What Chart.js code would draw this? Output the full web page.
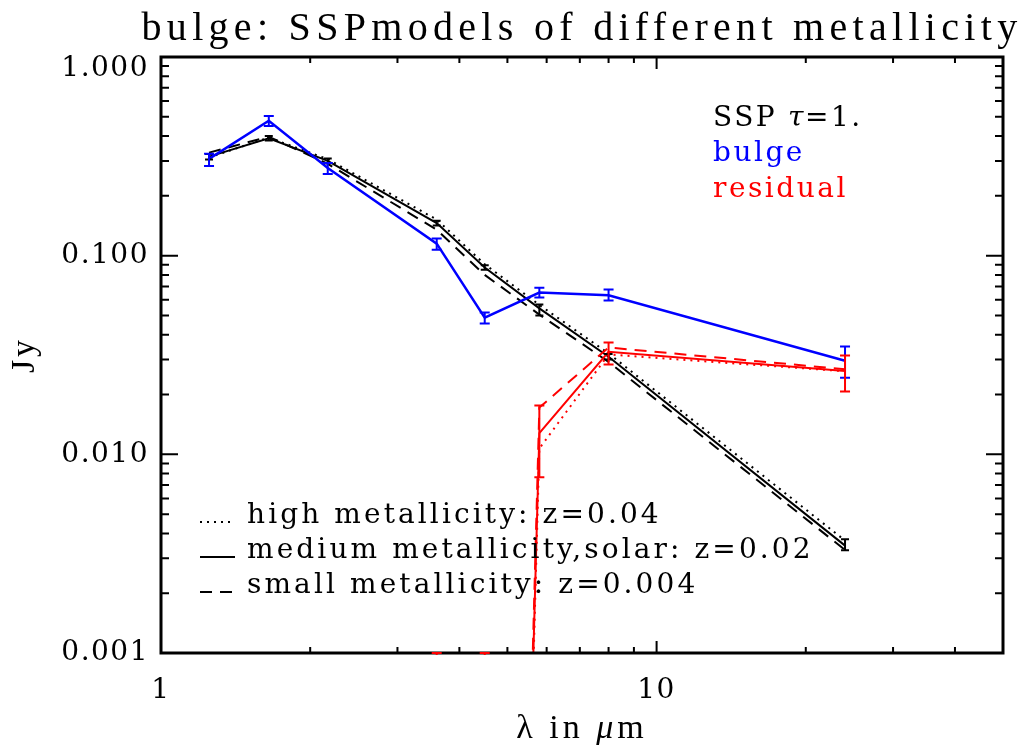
<!DOCTYPE html>
<html>
<head>
<meta charset="utf-8">
<script src="https://cdn.jsdelivr.net/npm/chart.js@4.4.0/dist/chart.umd.min.js"></script>
<style>
  html, body { margin: 0; padding: 0; background: #ffffff; }
  #wrap { width: 1031px; height: 746px; }
</style>
</head>
<body>
<div id="wrap"><canvas id="sedChart" width="1031" height="746"></canvas></div>
<script>
// band centres in micron: J H K, IRAC 3.6/4.5/5.8/8.0, MIPS 24
const wavelengths = [1.25, 1.65, 2.17, 3.6, 4.5, 5.8, 8.0, 24.0];

// observed bulge fluxes (Jy) + error bar ends
const bulgeFlux = [0.307, 0.478, 0.276, 0.115, 0.0487, 0.0652, 0.0632, 0.0296];
const bulgeLow  = [0.283, 0.450, 0.258, 0.107, 0.0455, 0.0615, 0.0594, 0.0243];
const bulgeHigh = [0.326, 0.505, 0.293, 0.122, 0.0517, 0.0690, 0.0675, 0.0349];

// SSP tau=1 model fits for three metallicities
const sspHighZ  = [0.312, 0.393, 0.306, 0.152, 0.0905, 0.0565, 0.0322, 0.00368];
const sspSolarZ = [0.315, 0.390, 0.300, 0.146, 0.0872, 0.0543, 0.0310, 0.00347];
const sspLowZ   = [0.330, 0.397, 0.290, 0.135, 0.0800, 0.0505, 0.0292, 0.00330];
const sspErrLow  = [0.305, 0.380, 0.292, 0.142, 0.0850, 0.0500, 0.0300, 0.00329];
const sspErrHigh = [0.325, 0.400, 0.308, 0.150, 0.0895, 0.0567, 0.0320, 0.00374];

// residual = bulge - model (tiny values fall off the bottom of the plot)
const residHighZ  = [null, null, null, 1e-12, 1e-12, 0.0107, 0.0318, 0.0262];
const residSolarZ = [null, null, null, 1e-12, 1e-12, 0.0128, 0.0328, 0.0263];
const residLowZ   = [null, null, null, 1e-12, 1e-12, 0.0172, 0.0345, 0.0268];
const residErrLow  = [null, null, null, 1e-12, 1e-12, 0.00766, 0.0283, 0.0207];
const residErrHigh = [null, null, null, 0.001, 0.001, 0.0176, 0.0365, 0.0314];

const xTickValues = [1, 10];
const xTickLabels = ["1", "10"];
const yTickValues = [0.001, 0.01, 0.1, 1];
const yTickLabels = ["0.001", "0.010", "0.100", "1.000"];

const titleText  = "bulge: SSPmodels of different metallicity";
const yTitleText = "Jy";
const legendLines = [
  "high metallicity: z=0.04",
  "medium metallicity,solar: z=0.02",
  "small metallicity: z=0.004"
];

const BLUE = "#0000ff", RED = "#ff0000", BLACK = "#000000";
const DOTTED = [2, 5];
const DASHED = [12, 8];
const SERIF = "'DejaVu Serif'";

function pts(values) {
  return wavelengths.map((x, i) => ({ x, y: values[i] }));
}

function line(label, values, color, width, dash) {
  return {
    label,
    data: pts(values),
    borderColor: color,
    borderWidth: width,
    borderDash: dash || [],
    pointRadius: 0,
    tension: 0,
    fill: false,
    spanGaps: false
  };
}

const errorSets = [
  { lo: sspErrLow,   hi: sspErrHigh,   color: BLACK, cap: 4 },
  { lo: bulgeLow,    hi: bulgeHigh,    color: BLUE,  cap: 5 },
  { lo: residErrLow, hi: residErrHigh, color: RED,   cap: 5 }
];

function spaced(ctx, text, x, y, spacing) {
  ctx.letterSpacing = spacing + "px";
  ctx.fillText(text, x, y);
  ctx.letterSpacing = "0px";
}

// frame, inward ticks, error bars and all text
const idlFrame = {
  id: "idlFrame",
  afterDatasetsDraw(chart) {
    const { ctx, chartArea: a, scales: { x, y } } = chart;

    ctx.save();
    ctx.strokeStyle = BLACK;
    ctx.lineWidth = 2;
    // x ticks, top and bottom
    const xMajLen = 12, xMinLen = 6;
    for (let d = 1; d < 100; d *= 10) {
      for (let m = 1; m < 10; m++) {
        const v = m * d;
        if (v > x.max) break;
        const px = x.getPixelForValue(v);
        const len = m === 1 ? xMajLen : xMinLen;
        ctx.beginPath();
        ctx.moveTo(px, a.bottom); ctx.lineTo(px, a.bottom - len);
        ctx.moveTo(px, a.top);    ctx.lineTo(px, a.top + len);
        ctx.stroke();
      }
    }
    // y ticks, left and right
    const yMajLen = 17, yMinLen = 8;
    for (let d = 0.001; d < 1.5; d *= 10) {
      for (let m = 1; m < 10; m++) {
        const v = m * d;
        if (v > y.max * 1.0001) break;
        const py = y.getPixelForValue(v);
        const len = m === 1 ? yMajLen : yMinLen;
        ctx.beginPath();
        ctx.moveTo(a.left, py);  ctx.lineTo(a.left + len, py);
        ctx.moveTo(a.right, py); ctx.lineTo(a.right - len, py);
        ctx.stroke();
      }
    }
    ctx.lineWidth = 3;
    ctx.strokeRect(a.left, a.top, a.right - a.left, a.bottom - a.top);
    ctx.restore();

    // error bars on top of the frame
    ctx.save();
    ctx.beginPath();
    ctx.rect(a.left, a.top - 2, a.right - a.left, a.bottom - a.top + 4);
    ctx.clip();
    ctx.lineWidth = 2;
    errorSets.forEach(set => {
      ctx.strokeStyle = set.color;
      wavelengths.forEach((w, i) => {
        if (set.lo[i] == null) return;
        const px = x.getPixelForValue(w);
        const p1 = Math.min(y.getPixelForValue(set.lo[i]), 5000);
        const p2 = y.getPixelForValue(set.hi[i]);
        ctx.beginPath();
        ctx.moveTo(px, p1);
        ctx.lineTo(px, p2);
        ctx.moveTo(px - set.cap, p1); ctx.lineTo(px + set.cap, p1);
        ctx.moveTo(px - set.cap, p2); ctx.lineTo(px + set.cap, p2);
        ctx.stroke();
      });
    });
    ctx.restore();

    ctx.save();
    // tick labels (top one pushed inside the frame like IDL does)
    ctx.fillStyle = BLACK;
    ctx.font = "28px " + SERIF;
    ctx.textAlign = "right";
    ctx.textBaseline = "middle";
    yTickValues.forEach((v, i) => {
      const py = Math.max(y.getPixelForValue(v), a.top + 12);
      spaced(ctx, yTickLabels[i], a.left - 12, py, 1.5);
    });
    ctx.textAlign = "center";
    xTickValues.forEach((v, i) => {
      spaced(ctx, xTickLabels[i], x.getPixelForValue(v), a.bottom + 38, 1.5);
    });

    // titles
    const midX = (a.left + a.right) / 2;
    ctx.font = "40px 'Liberation Serif'";
    ctx.textBaseline = "alphabetic";
    spaced(ctx, titleText, midX, 40, 5.3);

    // x title with italic mu
    ctx.textAlign = "left";
    ctx.letterSpacing = "4px";
    ctx.font = "34px 'Liberation Serif'";
    const p1 = "\u03bb in ", p3 = "m";
    const w1 = ctx.measureText(p1).width, w3 = ctx.measureText(p3).width;
    ctx.font = "italic 34px 'Liberation Serif'";
    const w2 = ctx.measureText("\u03bc").width;
    let tx = midX - (w1 + w2 + w3) / 2;
    ctx.font = "34px 'Liberation Serif'";
    ctx.fillText(p1, tx, 738);
    ctx.font = "italic 34px 'Liberation Serif'";
    ctx.fillText("\u03bc", tx + w1, 738);
    ctx.font = "34px 'Liberation Serif'";
    ctx.fillText(p3, tx + w1 + w2, 738);
    ctx.letterSpacing = "0px";

    ctx.textAlign = "center";
    ctx.save();
    ctx.translate(34, (a.top + a.bottom) / 2);
    ctx.rotate(-Math.PI / 2);
    spaced(ctx, yTitleText, 0, 0, 3);
    ctx.restore();

    // colour key, upper right
    ctx.font = "28px " + SERIF;
    ctx.textAlign = "left";
    ctx.fillStyle = BLACK;
    spaced(ctx, "SSP  ", 713, 126, 2.5);
    ctx.font = "italic 28px " + SERIF;
    spaced(ctx, "\u03c4", 788, 126, 2.5);
    ctx.font = "28px " + SERIF;
    spaced(ctx, "=1.", 805, 126, 2.5);
    ctx.fillStyle = BLUE;
    spaced(ctx, "bulge", 713, 161, 2.5);
    ctx.fillStyle = RED;
    spaced(ctx, "residual", 713, 197, 2.5);

    // line-style key, lower left
    const dashes = [DOTTED, [], DASHED];
    const baseY = [523, 558, 593];
    ctx.fillStyle = BLACK;
    ctx.strokeStyle = BLACK;
    legendLines.forEach((t, i) => {
      spaced(ctx, t, 247, baseY[i], 3.1);
      ctx.beginPath();
      ctx.setLineDash(dashes[i]);
      ctx.lineWidth = 2;
      ctx.moveTo(200, baseY[i] - 1);
      ctx.lineTo(235, baseY[i] - 1);
      ctx.stroke();
    });
    ctx.setLineDash([]);
    ctx.restore();
  }
};

const ctx = document.getElementById("sedChart").getContext("2d");
new Chart(ctx, {
  type: "line",
  data: {
    datasets: [
      line("resid high Z",  residHighZ,  RED,   2, DOTTED),
      line("resid solar Z", residSolarZ, RED,   2),
      line("resid low Z",   residLowZ,   RED,   2, DASHED),
      line("bulge",         bulgeFlux,   BLUE,  2.5),
      line("SSP high Z",    sspHighZ,    BLACK, 2, DOTTED),
      line("SSP solar Z",   sspSolarZ,   BLACK, 2),
      line("SSP low Z",     sspLowZ,     BLACK, 2, DASHED)
    ]
  },
  options: {
    responsive: false,
    animation: false,
    layout: { padding: { left: 161, right: 28, top: 57, bottom: 93 } },
    scales: {
      x: { type: "logarithmic", min: 1, max: 50, display: false },
      y: { type: "logarithmic", min: 0.001, max: 1, display: false }
    },
    plugins: {
      legend: { display: false },
      title: { display: false },
      tooltip: { enabled: false }
    }
  },
  plugins: [idlFrame]
});
</script>
</body>
</html>
